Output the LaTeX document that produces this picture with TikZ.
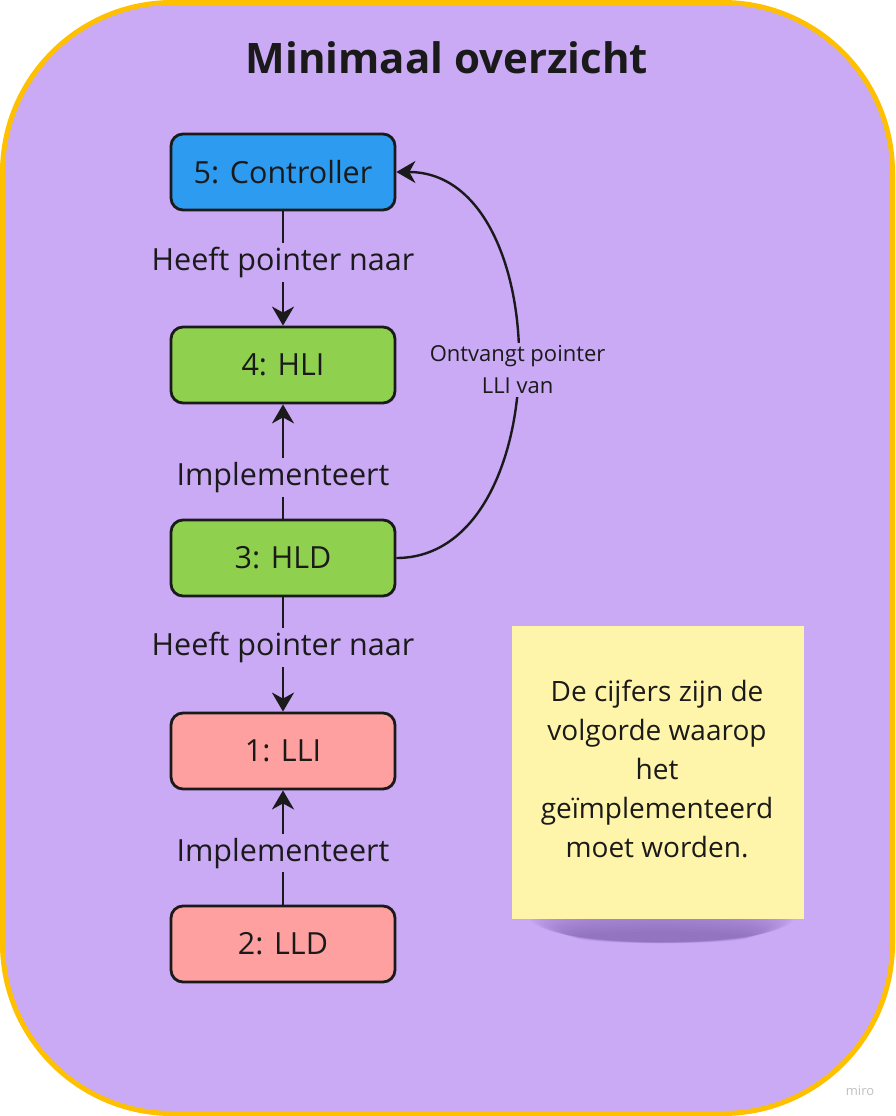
\documentclass[tikz,border=0pt]{standalone}
\usepackage{fontspec}
\setmainfont{Open Sans}
\usetikzlibrary{arrows.meta}
\definecolor{bg}{HTML}{CAA9F5}
\definecolor{framec}{HTML}{FFC000}
\definecolor{ctrlc}{HTML}{2D9BF0}
\definecolor{greenc}{HTML}{8FD14F}
\definecolor{redc}{HTML}{FFA0A0}
\definecolor{ink}{HTML}{1A1A1A}
\definecolor{stickyc}{HTML}{FFF5AA}
\definecolor{shadowc}{HTML}{4A2E7A}
\begin{document}
\begin{tikzpicture}[x=1pt,y=-1pt,
  box/.style={draw=ink,line width=2.8pt,rounded corners=12pt,minimum width=224pt,minimum height=76pt,font=\fontsize{30.5}{36}\selectfont,text=ink,inner sep=0pt},
  tip/.style={-{Stealth[length=19pt,width=22pt,inset=6pt]}},
  arr/.style={draw=ink,line width=2.8pt,tip},
  lbl/.style={fill=bg,font=\fontsize{30.5}{36}\selectfont,text=ink,inner sep=4pt},
  small/.style={fill=bg,font=\fontsize{22}{32}\selectfont,text=ink,align=center,inner sep=3pt}]
\useasboundingbox (0,0) rectangle (895,1116);
\draw[framec,line width=5pt,fill=bg,rounded corners=170pt] (2.5,2.5) rectangle (892.5,1113.5);
\node[text=ink,font=\fontsize{42}{50}\selectfont\bfseries] (title) at (447,58) {Minimaal overzicht};
\node[box,fill=ctrlc] (ctrl) at (283,172) {5: Controller};
\node[box,fill=greenc] (hli) at (283,365) {4: HLI};
\node[box,fill=greenc] (hld) at (283,558) {3: HLD};
\node[box,fill=redc] (lli) at (283,751) {1: LLI};
\node[box,fill=redc] (lld) at (283,944) {2: LLD};
\draw[arr] (ctrl) -- node[lbl,pos=0.45]{Heeft pointer naar} (hli);
\draw[arr] (hld) -- node[lbl,pos=0.36]{Implementeert} (hli);
\draw[arr] (hld) -- node[lbl,pos=0.44]{Heeft pointer naar} (lli);
\draw[arr] (lld) -- node[lbl,pos=0.45]{Implementeert} (lli);
\draw[draw=ink,line width=2.4pt,tip] (hld.east) .. controls (558,558) and (558,172) .. node[small,pos=0.5,yshift=-5pt]{Ontvangt pointer\\LLI van} (ctrl.east);
% sticky shadow
\foreach \i in {0,...,13}{
  \fill[shadowc,opacity=0.035] (662,918+1.5*\i) ellipse ({(132-3.5*\i)*1pt} and {(24-1.4*\i)*1pt});
}
\node[fill=stickyc,minimum width=292pt,minimum height=293pt,inner sep=0pt] (note) at (658,772.5) {};
\node[text=ink,align=center,font=\fontsize{28}{39}\selectfont] (notetext) at (657,768.5) {De cijfers zijn de\\volgorde waarop\\het\\geïmplementeerd\\moet worden.};
\node[text=black!25,font=\fontsize{13}{15}\selectfont] (miro) at (860,1091) {miro};
\end{tikzpicture}
\end{document}
